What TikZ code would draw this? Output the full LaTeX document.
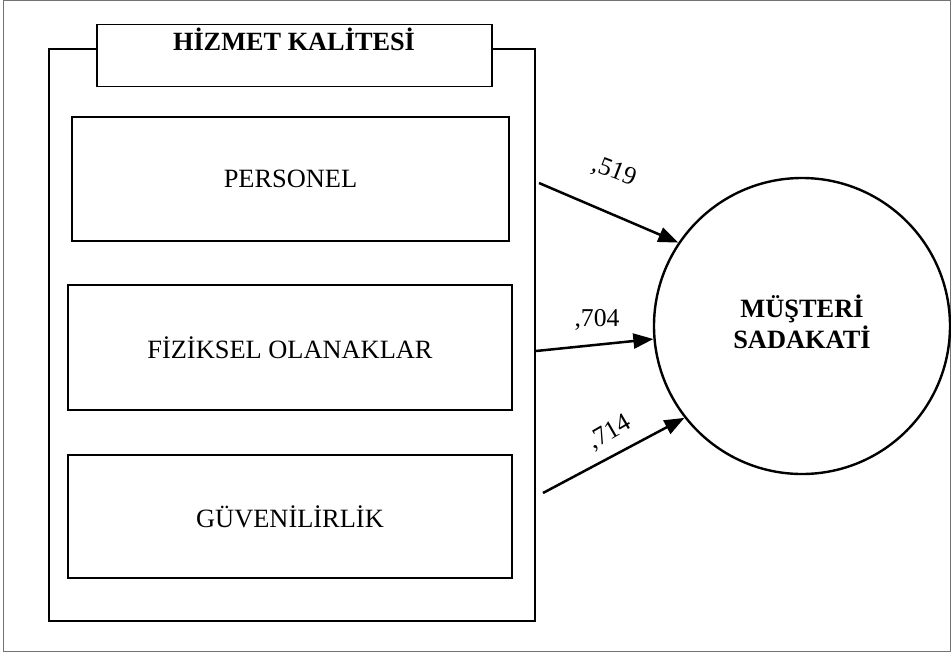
\documentclass[tikz,border=0pt]{standalone}
\usepackage{fontspec}
\setmainfont{Liberation Serif}
\usetikzlibrary{arrows.meta}
\begin{document}
\begin{tikzpicture}[x=1pt,y=-1pt,
  frame/.style={draw=black!55, line width=1pt},
  groupbox/.style={draw, line width=2.8pt},
  titlebox/.style={draw, fill=white, line width=1.4pt, minimum width=395pt, minimum height=62pt, inner sep=0pt},
  itembox/.style={draw, line width=1.4pt, inner sep=0pt, font=\fontsize{26.4}{30}\selectfont},
  target/.style={draw, circle, line width=2.4pt, minimum size=296pt, inner sep=0pt},
  targettext/.style={align=center, inner sep=0pt, font=\bfseries\fontsize{26.4}{31}\selectfont},
  coef/.style={font=\fontsize{25.7}{28}\selectfont, inner sep=0pt},
  link/.style={line width=2.5pt, -{Triangle[length=20pt,width=15pt]}}
]
\useasboundingbox (0,0) rectangle (951,654);
\draw[frame] (3.5,0.5) rectangle (950,651);
% group box
\draw[groupbox] (49,49) rectangle (535,621);
\node[titlebox] (title) at (294.5,55.5) {};
\node[font=\bfseries\fontsize{26.3}{30}\selectfont, anchor=base, inner sep=0pt] (titletext) at (294,50.5) {HİZMET KALİTESİ};
% items
\node[itembox, minimum width=437pt, minimum height=124pt] (personel) at (290.5,179) {PERSONEL};
\node[itembox, minimum width=444pt, minimum height=125pt] (fiziksel) at (290,347.5) {FİZİKSEL OLANAKLAR};
\node[itembox, minimum width=444pt, minimum height=123pt] (guven) at (290,516.5) {GÜVENİLİRLİK};
% target
\node[target, label={[targettext, yshift=4pt]center:MÜŞTERİ\\SADAKATİ}] (sadakat) at (802,326) {};
% arrow starts
\coordinate (s1) at (539,183);
\coordinate (s2) at (536,351);
\coordinate (s3) at (543,493);
\draw[link] (s1) -- (sadakat.146.5);
\draw[link] (s2) -- (sadakat.185.9);
\draw[link] (s3) -- (sadakat.218.3);
% coefficients
\node[coef, rotate=-21] (c1) at (614,172) {,519};
\node[coef] (c2) at (597,320) {,704};
\node[coef, rotate=30] (c3) at (610,433) {,714};
\end{tikzpicture}
\end{document}
